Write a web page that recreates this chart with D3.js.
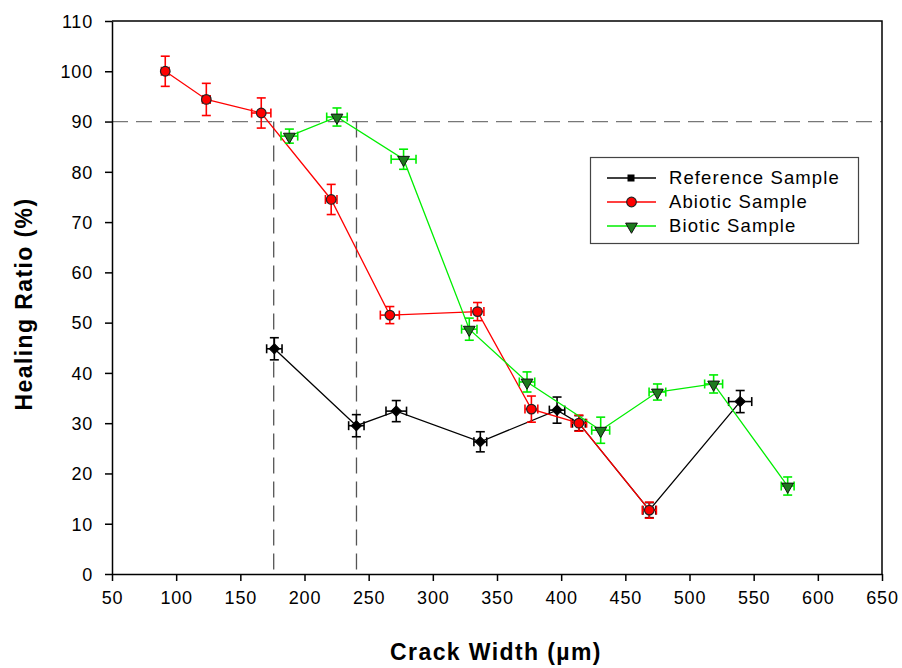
<!DOCTYPE html>
<html>
<head>
<meta charset="utf-8">
<script src="https://cdn.jsdelivr.net/npm/d3@7"></script>
<style>
  html, body { margin: 0; padding: 0; background: #fff; }
  svg { display: block; font-family: "Liberation Sans", Arial, sans-serif; }
</style>
</head>
<body>
<svg id="chart" width="902" height="668"></svg>
<script>
// Healing ratio vs crack width for three sample groups
const seriesNames = ["Reference Sample", "Abiotic Sample", "Biotic Sample"];
const seriesColors = ["#000000", "#ff0000", "#00ee00"];

// Reference sample: crack width (µm), healing ratio (%), x error, y error
const refX  = [176.5, 240.4, 271.5, 337.0, 396.8, 413.8, 468.7, 539.5];
const refY  = [44.8, 29.5, 32.4, 26.3, 32.6, 30.0, 12.7, 34.3];
const refXe = [6, 6, 8, 5, 6, 5, 5, 9];
const refYe = [2.2, 2.2, 2.1, 2.0, 2.6, 1.5, 1.5, 2.2];

// Abiotic sample
const abiX  = [91.5, 123.5, 166.3, 220.8, 266.5, 334.8, 376.8, 413.8, 468.7];
const abiY  = [100.0, 94.4, 91.7, 74.5, 51.5, 52.2, 32.8, 30.0, 12.7];
const abiXe = [3, 3, 7.5, 4.5, 7.4, 5, 5, 6, 5.5];
const abiYe = [3.0, 3.2, 3.0, 3.0, 1.7, 1.8, 2.6, 1.6, 1.6];

// Biotic sample
const bioX  = [188.2, 225.3, 277.2, 328.4, 373.4, 430.8, 475.0, 518.8, 576.5];
const bioY  = [87.1, 90.9, 82.5, 48.7, 38.2, 28.6, 36.2, 37.8, 17.5];
const bioXe = [6.5, 8, 9.7, 6, 6, 7, 6.5, 7, 5];
const bioYe = [1.4, 1.8, 2.0, 2.2, 2.0, 2.6, 1.6, 1.8, 1.8];

// Threshold guides: 90 % healing and the crack widths where each curve crosses it
const thresholdY = 90;
const thresholdX = [176, 240.5];

const xTicks = [50, 100, 150, 200, 250, 300, 350, 400, 450, 500, 550, 600, 650];
const yTicks = [0, 10, 20, 30, 40, 50, 60, 70, 80, 90, 100, 110];

const xTitle = "Crack Width (µm)";
const yTitle = "Healing Ratio (%)";

const zip = (xs, ys, xe, ye) => xs.map((x, i) => ({ x, y: ys[i], xe: xe[i], ye: ye[i] }));
const series = [
  { name: seriesNames[0], color: seriesColors[0], marker: "square",   pts: zip(refX, refY, refXe, refYe) },
  { name: seriesNames[1], color: seriesColors[1], marker: "circle",   pts: zip(abiX, abiY, abiXe, abiYe) },
  { name: seriesNames[2], color: seriesColors[2], marker: "triangle", pts: zip(bioX, bioY, bioXe, bioYe) }
];

const svg = d3.select("#chart");
const plotLeft = 112, plotRight = 882, plotTop = 21, plotBottom = 574;

const x = d3.scaleLinear().domain([50, 650]).range([plotLeft, plotRight]);
const y = d3.scaleLinear().domain([0, 110]).range([plotBottom, plotTop]);

// Dashed threshold guides
const guide = svg.append("g")
  .attr("stroke", "#555").attr("stroke-width", 1.3).attr("stroke-dasharray", "16,8").attr("fill", "none");
guide.append("line")
  .attr("x1", x(50)).attr("x2", x(650)).attr("y1", y(thresholdY)).attr("y2", y(thresholdY))
  .attr("stroke", "#777");
thresholdX.forEach(v => {
  guide.append("line")
    .attr("x1", x(v)).attr("x2", x(v)).attr("y1", y(thresholdY)).attr("y2", y(0));
});

// Frame (top and right sides)
svg.append("path")
  .attr("d", `M${plotLeft},${plotTop}H${plotRight}V${plotBottom}`)
  .attr("fill", "none").attr("stroke", "#000").attr("stroke-width", 1.5);

// Axes
const xAxis = svg.append("g").attr("transform", `translate(0,${plotBottom})`)
  .call(d3.axisBottom(x).tickValues(xTicks).tickSize(7).tickSizeOuter(0).tickPadding(8));
const yAxis = svg.append("g").attr("transform", `translate(${plotLeft},0)`)
  .call(d3.axisLeft(y).tickValues(yTicks).tickSize(7).tickSizeOuter(0).tickPadding(12));
[xAxis, yAxis].forEach(a => {
  a.select(".domain").attr("stroke", "#000").attr("stroke-width", 1.5);
  a.selectAll(".tick line").attr("stroke", "#000").attr("stroke-width", 1.5);
  a.selectAll(".tick text").attr("fill", "#000").style("font-size", "18px")
    .style("letter-spacing", "0.8px")
    .style("font-family", '"Liberation Sans", Arial, sans-serif');
});
xAxis.selectAll(".tick text").attr("dy", "0.85em");
yAxis.selectAll(".tick text").attr("dy", "0.35em");

// Axis titles
svg.append("text")
  .attr("x", 496).attr("y", 660)
  .attr("text-anchor", "middle").attr("font-weight", "bold").attr("font-size", 23)
  .style("letter-spacing", "1.4px")
  .text(xTitle);
svg.append("text")
  .attr("transform", `translate(32,304) rotate(-90)`)
  .attr("text-anchor", "middle").attr("font-weight", "bold").attr("font-size", 23)
  .style("letter-spacing", "1.4px")
  .text(yTitle);

// Marker drawing helper
function drawMarker(g, type, cx, cy, color) {
  if (type === "square") {
    g.append("rect").attr("x", cx - 3.6).attr("y", cy - 3.6).attr("width", 7.2).attr("height", 7.2)
      .attr("fill", "#000").attr("stroke", "#000").attr("stroke-width", 1)
      .attr("transform", `rotate(45,${cx},${cy})`);
  } else if (type === "circle") {
    g.append("circle").attr("cx", cx).attr("cy", cy).attr("r", 4.8)
      .attr("fill", color).attr("stroke", "#222").attr("stroke-width", 1.2);
  } else {
    const tri = d3.symbol().type(d3.symbolTriangle).size(60);
    g.append("path").attr("d", tri())
      .attr("transform", `translate(${cx},${cy + 0.5}) rotate(180)`)
      .attr("fill", "#1e7a1e").attr("stroke", "#111").attr("stroke-width", 1);
  }
}

const line = d3.line().x(d => x(d.x)).y(d => y(d.y));
const cap = 4.5;

series.forEach(s => {
  const g = svg.append("g");
  g.append("path").datum(s.pts).attr("d", line)
    .attr("fill", "none").attr("stroke", s.color).attr("stroke-width", 1.3);

  s.pts.forEach(p => {
    const cx = x(p.x), cy = y(p.y);
    const x0 = x(p.x - p.xe), x1 = x(p.x + p.xe);
    const y0 = y(p.y - p.ye), y1 = y(p.y + p.ye);
    const eb = g.append("g").attr("stroke", s.color).attr("stroke-width", 1.6).attr("fill", "none");
    eb.append("line").attr("x1", cx).attr("x2", cx).attr("y1", y0).attr("y2", y1);
    eb.append("line").attr("x1", cx - cap).attr("x2", cx + cap).attr("y1", y0).attr("y2", y0);
    eb.append("line").attr("x1", cx - cap).attr("x2", cx + cap).attr("y1", y1).attr("y2", y1);
    eb.append("line").attr("x1", x0).attr("x2", x1).attr("y1", cy).attr("y2", cy);
    eb.append("line").attr("x1", x0).attr("x2", x0).attr("y1", cy - cap).attr("y2", cy + cap);
    eb.append("line").attr("x1", x1).attr("x2", x1).attr("y1", cy - cap).attr("y2", cy + cap);
    drawMarker(g, s.marker, cx, cy, s.color);
  });
});

// Legend
const lg = svg.append("g");
lg.append("rect").attr("x", 590.5).attr("y", 157.5).attr("width", 268).attr("height", 86)
  .attr("fill", "#fff").attr("stroke", "#444").attr("stroke-width", 1.2);
series.forEach((s, i) => {
  const ry = 178 + i * 24;
  lg.append("line").attr("x1", 607).attr("x2", 656).attr("y1", ry).attr("y2", ry)
    .attr("stroke", s.color).attr("stroke-width", 1.5);
  if (s.marker === "square") {
    lg.append("rect").attr("x", 627.5).attr("y", ry - 3.5).attr("width", 7).attr("height", 7).attr("fill", "#000");
  } else {
    drawMarker(lg, s.marker, 631.5, ry, s.color);
  }
  lg.append("text").attr("x", 669).attr("y", ry).attr("dy", "0.35em")
    .attr("font-size", 18.5).style("letter-spacing", "1.1px").attr("fill", "#000").text(s.name);
});
</script>
</body>
</html>
